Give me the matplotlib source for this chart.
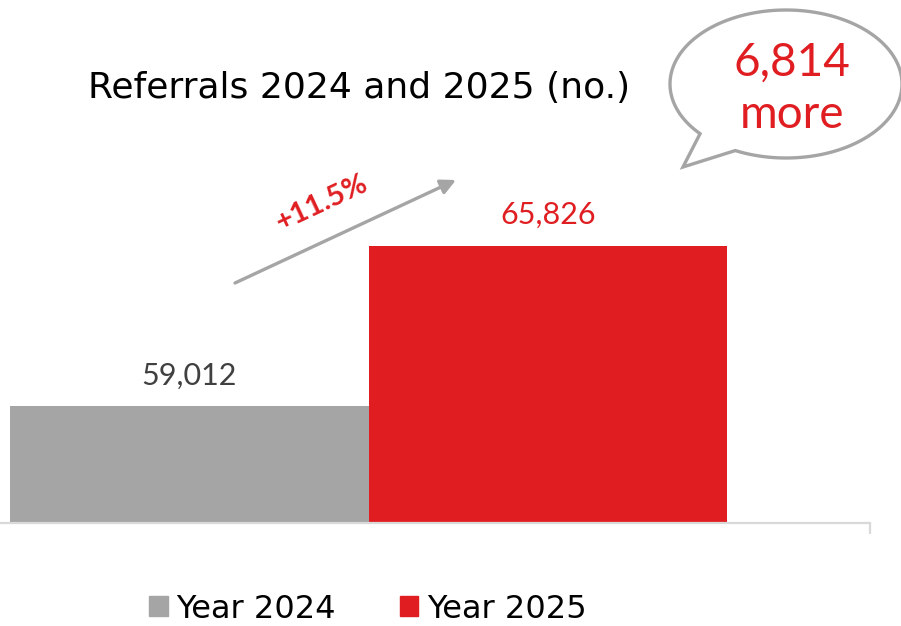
import matplotlib.pyplot as plt
import numpy as np
from matplotlib.patches import Polygon

years = ["Year 2024", "Year 2025"]
referrals = [59012, 65826]
bar_colors = ["#A5A5A5", "#E01E22"]
label_colors = ["#404040", "#E01E22"]
change_pct = "+11.5%"
bubble_lines = ["6,814", "more"]
title = "Referrals 2024 and 2025 (no.)"

W, H = 901, 626
fig = plt.figure(figsize=(W / 100, H / 100), dpi=100)
plt.rcParams["font.family"] = ["Lato", "DejaVu Sans"]

# main bar axes (baseline at y=523 px, bars 10..727 px)
base_px = 522.7
ax = fig.add_axes([0, (H - base_px) / H, 870 / W, base_px / H])
bar_px = 358.5
xmin = -0.5 - 10 / bar_px
xmax = 1.5 + (870 - 727) / bar_px
ax.set_xlim(xmin, xmax)
ax.set_ylim(54040, 76300)

positions = np.arange(len(years))
bars = ax.bar(positions, referrals, width=1.0, color=bar_colors, zorder=2)
for pos, val, col in zip(positions, referrals, label_colors):
    ax.annotate(f"{val:,}", (pos, val), xytext=(0, 12), textcoords="offset points",
                ha="center", va="bottom", fontsize=22, color=col)

for side in ["left", "right", "top"]:
    ax.spines[side].set_visible(False)
ax.spines["bottom"].set_color("#D9D9D9")
ax.spines["bottom"].set_linewidth(1.6)
ax.set_yticks([])
ax.set_xticks([xmax])
ax.set_xticklabels([""])
ax.tick_params(axis="x", direction="out", length=8, width=1.6, color="#D9D9D9")
ax.patch.set_visible(False)

# overlay for title and callouts in pixel space
ov = fig.add_axes([0, 0, 1, 1], zorder=5)
ov.set_xlim(0, W)
ov.set_ylim(H, 0)
ov.axis("off")
ov.patch.set_visible(False)

ov.text(359, 98, title, ha="center", va="baseline", fontsize=26, color="black",
        family=["DejaVu Sans"])

ov.annotate("", xy=(456, 180), xytext=(235, 283),
            arrowprops=dict(arrowstyle="-|>,head_length=0.9,head_width=0.45",
                            color="#A5A5A5", lw=2.4, shrinkA=0, shrinkB=0))
ov.text(322, 203, change_pct, ha="center", va="center", rotation=25,
        fontsize=21, fontweight="bold", color="#E01E22")

# speech bubble
cx, cy, rx, ry = 786, 84, 116, 74
a1 = np.arctan2((132 - cy) / ry, (703 - cx) / rx)
a2 = np.arctan2((147 - cy) / ry, (738 - cx) / rx) + 2 * np.pi
t = np.linspace(a1, a2, 200)
pts = np.column_stack([cx + rx * np.cos(t), cy + ry * np.sin(t)])
pts = np.vstack([pts, [[683, 167]]])
ov.add_patch(Polygon(pts, closed=True, facecolor="white", edgecolor="#A5A5A5", lw=2.4))
ov.text(792, 76, bubble_lines[0], ha="center", va="baseline", fontsize=33, color="#E01E22")
ov.text(792, 128, bubble_lines[1], ha="center", va="baseline", fontsize=33, color="#E01E22")

handles = [plt.Rectangle((0, 0), 1, 1, color=c) for c in bar_colors]
fig.legend(handles, years, loc="center", bbox_to_anchor=(368 / W, 1 - 609 / H),
           ncol=2, frameon=False, handlelength=0.58, handleheight=0.58,
           handletextpad=0.28, columnspacing=2.0, prop={"family": "DejaVu Sans", "size": 23})

fig.savefig("out.png", dpi=100)
